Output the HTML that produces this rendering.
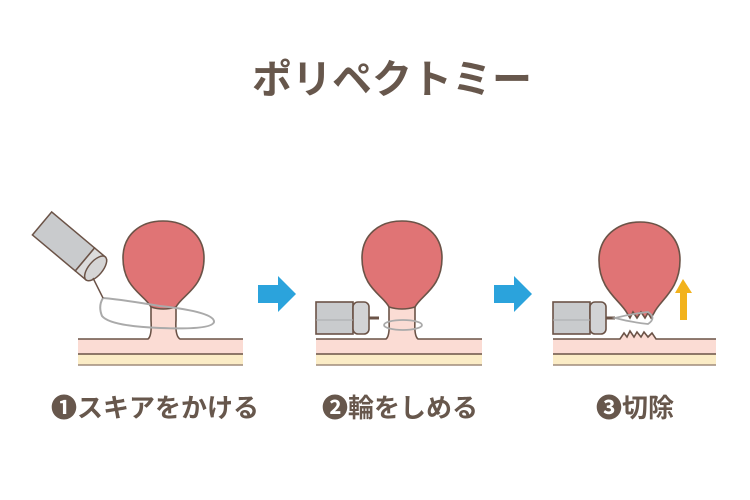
<!DOCTYPE html>
<html><head><meta charset="utf-8"><style>
body{margin:0;background:#fff;}
svg{display:block}
text{font-family:"Liberation Sans","Noto Sans CJK JP",sans-serif;font-weight:bold;fill:#67574c}
</style></head><body>
<svg width="750" height="500" viewBox="0 0 750 500">
<text x="392" y="93" font-size="40" text-anchor="middle">ポリペクトミー</text>

<!-- Panel 1 -->
<g stroke="#6b5347" stroke-width="1.6">
<rect x="78" y="339" width="165" height="15" fill="#fbdcd4" stroke="none"/>
<rect x="78" y="354" width="165" height="11" fill="#fbecc6" stroke="none"/>
<line x1="78" y1="354" x2="243" y2="354"/><line x1="78" y1="365" x2="243" y2="365" stroke="#a08c7c"/>
<path d="M78 339 H148 Q152 336 151 320 L151 305 H176 L176 320 Q175 336 180 339 H243" fill="#fbdcd4"/>
<path d="M151 307 C145 295 123 288 123 258 C123 235 140 221 163 221 C186 221 204 235 204 258 C204 288 182 295 176 307 Q163 311 151 307Z" fill="#e07475"/>
</g>
<path d="M103 298 Q125 300 160 306 Q215 312 214 322 Q212 330 160 328 Q110 326 102 316 Q98 306 103 298" fill="none" stroke="#aaa" stroke-width="2"/>
<g transform="translate(88,262) rotate(40)">
<rect x="-60" y="-15" width="56" height="30" fill="#c9cbcd" stroke="#6b5347" stroke-width="1.5"/>
<rect x="-4" y="-15" width="14" height="30" fill="#dcdcdc" stroke="#6b5347" stroke-width="1.5"/>
<ellipse cx="10" cy="0" rx="7" ry="15" fill="#d5d5d5" stroke="#6b5347" stroke-width="1.5"/>
</g>
<line x1="93" y1="278" x2="103" y2="298" stroke="#6b5347" stroke-width="1.5"/>

<!-- arrows -->
<path d="M258 285 H278 V276 L296 294 L278 312 V303 H258Z" fill="#2ba3dc"/>
<path d="M494 285 H514 V276 L532 294 L514 312 V303 H494Z" fill="#2ba3dc"/>

<!-- Panel 2 -->
<g stroke="#6b5347" stroke-width="1.6">
<rect x="316" y="339" width="166" height="15" fill="#fbdcd4" stroke="none"/>
<rect x="316" y="354" width="166" height="11" fill="#fbecc6" stroke="none"/>
<line x1="316" y1="354" x2="482" y2="354"/><line x1="316" y1="365" x2="482" y2="365" stroke="#a08c7c"/>
<path d="M316 339 H386 Q390 336 389 320 L389 305 H415 L415 320 Q414 336 418 339 H482" fill="#fbdcd4"/>
<path d="M389 307 C383 295 362 288 362 258 C362 235 379 221 402 221 C425 221 442 235 442 258 C442 288 421 295 415 307 Q402 311 389 307Z" fill="#e07475"/>
<rect x="316" y="302" width="37" height="32" fill="#c9cbcd"/>
<rect x="353" y="302" width="16" height="32" rx="5" fill="#d2d3d5"/>
<line x1="369" y1="318" x2="379" y2="318" stroke-width="3"/>
</g>
<line x1="316" y1="320" x2="353" y2="320" stroke="#a9abad"/>
<ellipse cx="403" cy="325" rx="19" ry="5" fill="none" stroke="#aaa" stroke-width="1.8"/>

<!-- Panel 3 -->
<g stroke="#6b5347" stroke-width="1.6">
<rect x="553" y="339" width="163" height="15" fill="#fbdcd4" stroke="none"/>
<rect x="553" y="354" width="163" height="11" fill="#fbecc6" stroke="none"/>
<line x1="553" y1="354" x2="716" y2="354"/><line x1="553" y1="365" x2="716" y2="365" stroke="#a08c7c"/>
<path d="M553 339 H620 L624 333 L627 337 L630 331 L634 337 L637 332 L641 337 L644 332 L648 337 L652 333 L656 339 H716" fill="#fbdcd4"/>
<path d="M627 313 C620 300 599 290 599 260 C599 237 617 222 640 222 C663 222 680 237 680 260 C680 290 660 300 654 313 L651 318 L648 313 L645 318 L641 312 L637 318 L633 312 L630 318Z" fill="#e07475"/>
<rect x="553" y="302" width="37" height="32" fill="#c9cbcd"/>
<rect x="590" y="302" width="16" height="32" rx="5" fill="#d2d3d5"/>
<line x1="606" y1="318" x2="615" y2="318" stroke-width="3"/>
</g>
<line x1="553" y1="320" x2="590" y2="320" stroke="#a9abad"/>
<path d="M615 318 Q630 314 648 312 Q657 318 648 324 Q630 322 615 318Z" fill="none" stroke="#aaa" stroke-width="1.8"/>
<path d="M683 279 L692 293 H687 V320 H680 V293 H675Z" fill="#f2b21c"/>

<text x="155" y="417" font-size="26" text-anchor="middle">❶スキアをかける</text>
<text x="400" y="417" font-size="26" text-anchor="middle">❷輪をしめる</text>
<text x="635" y="417" font-size="26" text-anchor="middle">❸切除</text>
</svg>
</body></html>
